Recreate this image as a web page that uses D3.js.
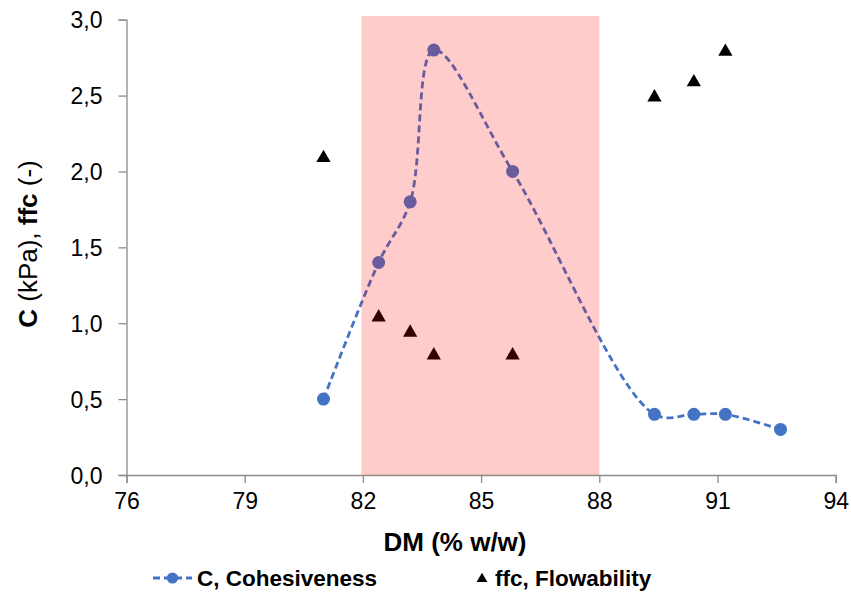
<!DOCTYPE html>
<html>
<head>
<meta charset="utf-8">
<script src="https://cdn.jsdelivr.net/npm/d3@7"></script>
<style>
  html, body { margin: 0; padding: 0; background: #ffffff; }
  svg { display: block; font-family: "Liberation Sans", Arial, sans-serif; }
</style>
</head>
<body>
<svg id="chart" width="851" height="593"></svg>
<script>
// ---- data ----
const cohesionDM = [81.0, 82.4, 83.2, 83.8, 85.8, 89.4, 90.4, 91.2, 92.6];
const cohesionC  = [0.5, 1.4, 1.8, 2.8, 2.0, 0.4, 0.4, 0.4, 0.3];
const ffcDM      = [81.0, 82.4, 83.2, 83.8, 85.8, 89.4, 90.4, 91.2];
const ffcValues  = [2.1, 1.05, 0.95, 0.8, 0.8, 2.5, 2.6, 2.8];
const xTicks     = [76, 79, 82, 85, 88, 91, 94];
const yTicks     = [0, 0.5, 1.0, 1.5, 2.0, 2.5, 3.0];
const shadeDM    = [82, 88];
const shadeTop   = 3.025;
const seriesNames = ["C, Cohesiveness", "ffc, Flowability"];

// ---- layout ----
const svg = d3.select("#chart");
const pLeft = 126.5, pRight = 835.7, pTop = 19.7, pBottom = 475;
const x = d3.scaleLinear().domain([76, 94]).range([pLeft, pRight]);
const y = d3.scaleLinear().domain([0, 3]).range([pBottom, pTop]);
const axisColor = "#8c8c8c";
const blue = "#4472C4";

svg.append("rect").attr("width", 851).attr("height", 593).attr("fill", "#fff");

// axes
const xAxis = svg.append("g").attr("transform", `translate(0,${pBottom})`)
  .call(d3.axisBottom(x).tickValues(xTicks).tickSize(8).tickPadding(10).tickFormat(d3.format("d")));
const yAxis = svg.append("g").attr("transform", `translate(${pLeft},0)`)
  .call(d3.axisLeft(y).tickValues(yTicks).tickSize(8).tickPadding(16)
    .tickFormat(d => d3.format(".1f")(d).replace(".", ",")));
[xAxis, yAxis].forEach(g => {
  g.select(".domain").attr("stroke", axisColor).attr("stroke-width", 1.3);
  g.selectAll(".tick line").attr("stroke", axisColor).attr("stroke-width", 1.3);
  g.selectAll(".tick text").attr("fill", "#000").style("font-size", "23px")
    .style("font-family", "'Liberation Sans', Arial, sans-serif");
});
yAxis.selectAll(".tick text").attr("dy", "0.36em");
xAxis.selectAll(".tick text").attr("dy", "0.71em");

// cohesiveness line (smoothed, dashed)
const pts = cohesionDM.map((d, i) => [d, cohesionC[i]]);
const line = d3.line().x(d => x(d[0])).y(d => y(d[1])).curve(d3.curveCatmullRom.alpha(0.5));
svg.append("path").datum(pts).attr("d", line)
  .attr("fill", "none").attr("stroke", blue).attr("stroke-width", 2.8)
  .attr("stroke-dasharray", "7,4");
svg.selectAll("circle.c").data(pts).enter().append("circle").attr("class", "c")
  .attr("cx", d => x(d[0])).attr("cy", d => y(d[1])).attr("r", 6.5).attr("fill", blue);

// ffc triangles
const tri = d3.symbol().type(d3.symbolTriangle).size(88);
svg.selectAll("path.t").data(ffcDM.map((d, i) => [d, ffcValues[i]])).enter().append("path")
  .attr("class", "t").attr("d", tri)
  .attr("transform", d => `translate(${x(d[0])},${y(d[1]) + 1.7})`).attr("fill", "#000");

// shaded region (semi-transparent overlay)
svg.append("rect")
  .attr("x", x(shadeDM[0]) - 1.5).attr("width", x(shadeDM[1]) - x(shadeDM[0]) + 1.5)
  .attr("y", y(shadeTop)).attr("height", y(0) - y(shadeTop))
  .attr("fill", "#ff0000").attr("fill-opacity", 0.2);

// axis titles
svg.append("text").attr("x", 455).attr("y", 551).attr("text-anchor", "middle")
  .style("font-size", "26px").style("font-weight", "bold").text("DM (% w/w)");

const yl = svg.append("text").attr("transform", "translate(37,244) rotate(-90)")
  .attr("text-anchor", "middle").style("font-size", "26px");
yl.append("tspan").style("font-weight", "bold").text("C");
yl.append("tspan").text(" (kPa), ");
yl.append("tspan").style("font-weight", "bold").text("ffc");
yl.append("tspan").text(" (-)");

// legend
const ly = 578;
const lg = svg.append("g");
lg.append("line").attr("x1", 153).attr("x2", 192).attr("y1", ly).attr("y2", ly)
  .attr("stroke", blue).attr("stroke-width", 2.8).attr("stroke-dasharray", "7,4");
lg.append("circle").attr("cx", 172.5).attr("cy", ly).attr("r", 5.6).attr("fill", blue);
lg.append("text").attr("x", 197).attr("y", ly).attr("dy", "0.36em")
  .style("font-size", "22.5px").style("font-weight", "bold").text(seriesNames[0]);
lg.append("path").attr("d", d3.symbol().type(d3.symbolTriangle).size(50))
  .attr("transform", `translate(482,${ly + 1})`).attr("fill", "#000");
lg.append("text").attr("x", 495).attr("y", ly).attr("dy", "0.36em")
  .style("font-size", "22.5px").style("font-weight", "bold").text(seriesNames[1]);
</script>
</body>
</html>
